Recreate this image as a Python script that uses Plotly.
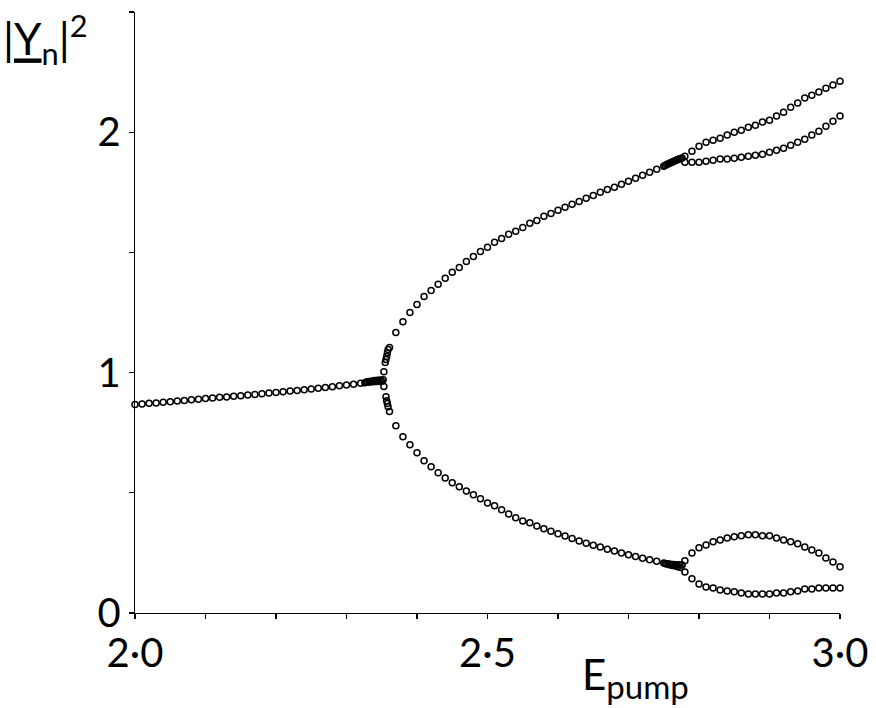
import plotly.graph_objects as go

# ---- data ----
# single stable branch
x_single = [2.00, 2.01, 2.02, 2.03, 2.04, 2.05, 2.06, 2.07, 2.08, 2.09,
            2.10, 2.11, 2.12, 2.13, 2.14, 2.15, 2.16, 2.17, 2.18, 2.19,
            2.20, 2.21, 2.22, 2.23, 2.24, 2.25, 2.26, 2.27, 2.28, 2.29,
            2.30, 2.31, 2.32]
y_single = [0.867, 0.869, 0.872, 0.874, 0.877, 0.879, 0.882, 0.884, 0.887, 0.889,
            0.892, 0.894, 0.897, 0.899, 0.902, 0.904, 0.907, 0.909, 0.912, 0.915,
            0.917, 0.920, 0.923, 0.926, 0.929, 0.932, 0.935, 0.938, 0.941, 0.945,
            0.948, 0.952, 0.956]

# dense cluster at first bifurcation
x_blob1 = [2.326, 2.328, 2.330, 2.332, 2.334, 2.336, 2.338, 2.340, 2.342, 2.344,
           2.346, 2.348, 2.350, 2.352]
y_blob1 = [0.958, 0.961, 0.960, 0.963, 0.961, 0.965, 0.962, 0.967, 0.963, 0.968,
           0.963, 0.969, 0.964, 0.970]

# points right after the first split
x_split1_up = [2.353, 2.355, 2.356, 2.357, 2.358, 2.359, 2.361]
y_split1_up = [1.004, 1.042, 1.054, 1.067, 1.083, 1.096, 1.104]
x_split1_dn = [2.353, 2.356, 2.357, 2.358, 2.359, 2.361]
y_split1_dn = [0.942, 0.900, 0.883, 0.871, 0.858, 0.838]

# period-2 branches
x_p2 = [2.37, 2.38, 2.39, 2.40, 2.41, 2.42, 2.43, 2.44, 2.45, 2.46,
        2.47, 2.48, 2.49, 2.50, 2.51, 2.52, 2.53, 2.54, 2.55, 2.56,
        2.57, 2.58, 2.59, 2.60, 2.61, 2.62, 2.63, 2.64, 2.65, 2.66,
        2.67, 2.68, 2.69, 2.70, 2.71, 2.72, 2.73, 2.74, 2.75]
y_p2_upper = [1.167, 1.212, 1.250, 1.283, 1.317, 1.342, 1.367, 1.392, 1.417, 1.437,
              1.462, 1.483, 1.504, 1.521, 1.542, 1.558, 1.575, 1.588, 1.604, 1.621,
              1.633, 1.650, 1.662, 1.675, 1.688, 1.700, 1.712, 1.725, 1.737, 1.750,
              1.762, 1.771, 1.783, 1.796, 1.808, 1.821, 1.833, 1.846, 1.858]
y_p2_lower = [0.779, 0.733, 0.700, 0.667, 0.633, 0.608, 0.583, 0.562, 0.542, 0.525,
              0.508, 0.492, 0.475, 0.458, 0.446, 0.429, 0.412, 0.396, 0.383, 0.375,
              0.362, 0.350, 0.340, 0.330, 0.320, 0.310, 0.300, 0.290, 0.282, 0.275,
              0.265, 0.258, 0.250, 0.242, 0.235, 0.228, 0.221, 0.215, 0.208]

# dense clusters at second bifurcation
x_blob2 = [2.752, 2.754, 2.756, 2.758, 2.760, 2.762, 2.764, 2.766, 2.768, 2.770,
           2.772, 2.774, 2.776]
y_blob2_upper = [1.862, 1.866, 1.868, 1.871, 1.873, 1.876, 1.878, 1.881, 1.883, 1.886,
                 1.888, 1.891, 1.893]
y_blob2_lower = [0.206, 0.204, 0.205, 0.201, 0.203, 0.198, 0.202, 0.195, 0.201, 0.192,
                 0.201, 0.189, 0.200]

# period-4 branches
x_p4 = [2.78, 2.79, 2.80, 2.81, 2.82, 2.83, 2.84, 2.85, 2.86, 2.87,
        2.88, 2.89, 2.90, 2.91, 2.92, 2.93, 2.94, 2.95, 2.96, 2.97,
        2.98, 2.99, 3.00]
y_p4_a = [1.900, 1.921, 1.942, 1.958, 1.967, 1.975, 1.988, 2.000, 2.008, 2.021,
          2.029, 2.042, 2.050, 2.067, 2.083, 2.104, 2.121, 2.142, 2.154, 2.167,
          2.183, 2.196, 2.212]
y_p4_b = [1.875, 1.875, 1.875, 1.879, 1.883, 1.888, 1.888, 1.892, 1.896, 1.900,
          1.904, 1.908, 1.917, 1.925, 1.933, 1.946, 1.958, 1.971, 1.988, 2.004,
          2.025, 2.046, 2.067]
y_p4_c = [0.217, 0.250, 0.271, 0.283, 0.296, 0.304, 0.312, 0.317, 0.321, 0.325,
          0.325, 0.321, 0.321, 0.312, 0.304, 0.296, 0.288, 0.275, 0.262, 0.250,
          0.229, 0.212, 0.192]
y_p4_d = [0.171, 0.142, 0.121, 0.108, 0.104, 0.096, 0.092, 0.088, 0.083, 0.079,
          0.079, 0.079, 0.079, 0.083, 0.083, 0.088, 0.092, 0.100, 0.100, 0.104,
          0.104, 0.104, 0.104]

x_tick_vals = [2.0, 2.1, 2.2, 2.3, 2.4, 2.5, 2.6, 2.7, 2.8, 2.9, 3.0]
x_tick_text = ["2·0", "", "", "", "", "2·5", "", "", "", "", "3·0"]
y_tick_vals = [0, 0.5, 1, 1.5, 2, 2.5]
y_tick_text = ["0", "", "1", "", "2", ""]

series = [
    (x_single, y_single),
    (x_blob1, y_blob1),
    (x_split1_up, y_split1_up),
    (x_split1_dn, y_split1_dn),
    (x_p2, y_p2_upper),
    (x_p2, y_p2_lower),
    (x_blob2, y_blob2_upper),
    (x_blob2, y_blob2_lower),
    (x_p4, y_p4_a),
    (x_p4, y_p4_b),
    (x_p4, y_p4_c),
    (x_p4, y_p4_d),
]

FONT = "Lato"

fig = go.Figure()
for xs, ys in series:
    fig.add_trace(go.Scatter(
        x=xs, y=ys, mode="markers",
        marker=dict(symbol="circle-open", size=6, color="black",
                    line=dict(width=1.5, color="black")),
        showlegend=False, cliponaxis=False, hoverinfo="skip",
    ))

axis_common = dict(tickmode="array", ticks="outside", ticklen=5, tickwidth=1.3,
                   tickcolor="black", showline=True, linecolor="black",
                   linewidth=1.3, showgrid=False, zeroline=False,
                   automargin=False,
                   tickfont=dict(size=40, family=FONT, color="black"))

fig.update_layout(
    width=876, height=708,
    margin=dict(l=135, r=36, t=12, b=95),
    paper_bgcolor="white", plot_bgcolor="white",
    font=dict(family=FONT, color="black", size=40),
    xaxis=dict(range=[2.0, 3.0], tickvals=x_tick_vals, ticktext=x_tick_text,
               **axis_common),
    yaxis=dict(range=[0, 2.5], tickvals=y_tick_vals, ticktext=y_tick_text,
               **axis_common),
    annotations=[
        dict(text="|<u>Y</u><sub>n</sub>|<sup>2</sup>", xref="paper", yref="paper",
             x=-0.19, y=1.012, xanchor="left", yanchor="top", showarrow=False,
             font=dict(size=44, family=FONT, color="black")),
        dict(text="E<sub><span style='font-size:33px'>pump</span></sub>",
             xref="paper", yref="paper",
             x=0.631, y=-0.056, xanchor="left", yanchor="top", showarrow=False,
             font=dict(size=42, family=FONT, color="black")),
    ],
)

fig.write_html("out.html",
               config={"displayModeBar": False, "staticPlot": True},
               post_script="document.body.style.margin='0';"
                           "document.body.style.overflow='hidden';")
